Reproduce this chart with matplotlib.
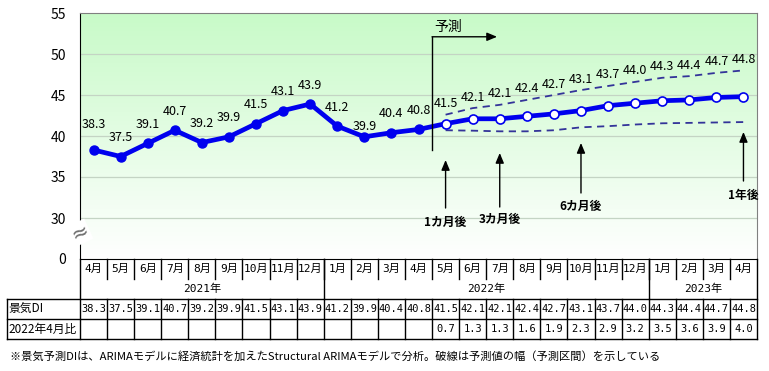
import numpy as np
import matplotlib
matplotlib.use('Agg')
import matplotlib.pyplot as plt
from matplotlib.colors import LinearSegmentedColormap

plt.rcParams['font.family'] = ['Noto Sans CJK JP', 'DejaVu Sans']

months = ['4月', '5月', '6月', '7月', '8月', '9月', '10月', '11月', '12月',
          '1月', '2月', '3月', '4月', '5月', '6月', '7月', '8月', '9月', '10月', '11月', '12月',
          '1月', '2月', '3月', '4月']
years = ['2021年', '2022年', '2023年']
year_span = [(0, 8), (9, 20), (21, 24)]
di = [38.3, 37.5, 39.1, 40.7, 39.2, 39.9, 41.5, 43.1, 43.9, 41.2, 39.9, 40.4, 40.8,
      41.5, 42.1, 42.1, 42.4, 42.7, 43.1, 43.7, 44.0, 44.3, 44.4, 44.7, 44.8]
upper = [42.6, 43.4, 43.8, 44.4, 45.0, 45.6, 46.1, 46.6, 47.1, 47.3, 47.7, 48.0]
lower = [40.7, 40.65, 40.57, 40.57, 40.7, 41.06, 41.2, 41.4, 41.55, 41.6, 41.65, 41.7]
ratio = [0.7, 1.3, 1.3, 1.6, 1.9, 2.3, 2.9, 3.2, 3.5, 3.6, 3.9, 4.0]
horizon_names = ['1カ月後', '3カ月後', '6カ月後', '1年後']
horizon_months = [1, 3, 6, 12]

n = len(di)
base = 12  # 2022年4月
x = np.arange(n)
xf = np.arange(base + 1, n)

W, H = 769, 371
fig = plt.figure(figsize=(W / 100, H / 100), dpi=100)
L, R, T, B = 80, 757, 13, 259
ax = fig.add_axes([L / W, (H - B) / H, (R - L) / W, (B - T) / H])
ax.set_xlim(-0.5, n - 0.5)
ax.set_ylim(25, 55)

# background gradient
cmap = LinearSegmentedColormap.from_list('g', ['#ffffff', '#c8fac8'])
grad = np.linspace(1, 0, 200).reshape(-1, 1)
ax.imshow(grad, cmap=cmap, extent=[-0.5, n - 0.5, 25, 55], aspect='auto', zorder=0)

for v in [30, 35, 40, 45, 50]:
    ax.axhline(v, color='#c4d4c4', lw=0.9, zorder=1)

ax.set_yticks([25, 30, 35, 40, 45, 50, 55])
ax.set_yticklabels(['0', '30', '35', '40', '45', '50', '55'], fontsize=10)
ax.tick_params(axis='y', length=0, pad=10)
ax.set_xticks([])
for s in ['top', 'right']:
    ax.spines[s].set_color('#808080')
ax.spines['left'].set_color('black')
ax.spines['bottom'].set_color('black')

# break mark
ax.text(-0.5, 28.2, '≈', fontsize=15, color='#707070', ha='center', va='center',
        rotation=25, family='DejaVu Sans', zorder=6,
        bbox=dict(boxstyle='square,pad=0.05', fc='white', ec='none'))

# main line
ax.plot(x, di, color='#0000ee', lw=3.4, zorder=4)
ax.plot(x[:base + 1], di[:base + 1], 'o', color='#0000ee', ms=6.5, zorder=5)
ax.plot(xf, di[base + 1:], 'o', mfc='white', mec='#0000ee', mew=1.2, ms=6.5, zorder=5)
ax.plot(xf, upper, '--', color='#333399', lw=1.3, dashes=(4, 3), zorder=3)
ax.plot(xf, lower, '--', color='#333399', lw=1.3, dashes=(4, 3), zorder=3)

# data labels
for i in range(base + 1):
    dy = 19
    if i == 0:
        dy = 25
    if i == 10:
        dy = 10
    ax.annotate(f'{di[i]:.1f}', (x[i], di[i]), xytext=(0, dy), textcoords='offset pixels',
                ha='center', va='center', fontsize=9, zorder=6)
for j, i in enumerate(xf):
    ax.annotate(f'{di[i]:.1f}', (i, upper[j]), xytext=(0, 11), textcoords='offset pixels',
                ha='center', va='center', fontsize=9, zorder=6)

# forecast bracket
ax.plot([base + 0.5, base + 0.5], [38.3, 52.1], color='black', lw=1, zorder=6)
ax.annotate('', xy=(base + 2.9, 52.1), xytext=(base + 0.5, 52.1),
            arrowprops=dict(arrowstyle='-|>,head_length=0.6,head_width=0.25', color='black', lw=1,
                            shrinkA=0, shrinkB=0), zorder=6)
ax.text(base + 1.1, 53.3, '予測', fontsize=10, ha='center', va='center')

# horizon arrows
tips = [37.07, 37.93, 39.15, 40.49]
tails = [31.22, 31.34, 33.05, 34.51]
texts = [29.51, 29.88, 31.46, 32.8]
for name, h, tp, tl, ty in zip(horizon_names, horizon_months, tips, tails, texts):
    xi = base + h
    ax.annotate('', xy=(xi, tp), xytext=(xi, tl),
                arrowprops=dict(arrowstyle='-|>,head_length=0.6,head_width=0.25', color='black', lw=1,
                                shrinkA=0, shrinkB=0), zorder=6)
    ax.text(xi, ty, name, fontsize=8.5, fontweight='bold', ha='center', va='center', zorder=6)

# table below
tb = fig.add_axes([L / W, (H - 339) / H, (R - L) / W, 80 / H])
tb.set_xlim(-0.5, n - 0.5)
tb.set_ylim(80, 0)
tb.axis('off')
lab_x = -0.5 - (L - 7) / ((R - L) / n)
kw = dict(color='black', lw=1, clip_on=False)
for k in range(n - 1):
    tb.plot([k + 0.5, k + 0.5], [0, 20], **kw)
    tb.plot([k + 0.5, k + 0.5], [40, 80], **kw)
for a, b in year_span[:-1]:
    tb.plot([b + 0.5, b + 0.5], [0, 40], **kw)
tb.plot([-0.5, -0.5], [0, 80], **kw)
tb.plot([n - 0.5, n - 0.5], [0, 80], **kw)
tb.plot([lab_x, lab_x], [40, 80], **kw)
for yy in [40, 60, 80]:
    tb.plot([lab_x, n - 0.5], [yy, yy], **kw)

mono = ['DejaVu Sans Mono', 'Noto Sans CJK JP']
for i, m in enumerate(months):
    tb.text(i, 10, m, ha='center', va='center', fontsize=8, family=mono)
for name, (a, b) in zip(years, year_span):
    tb.text((a + b) / 2, 30, name, ha='center', va='center', fontsize=8, family=mono)
for i in range(n):
    tb.text(i, 50, f'{di[i]:.1f}', ha='center', va='center', fontsize=7.5, family=mono)
for j, i in enumerate(xf):
    tb.text(i, 70, f'{ratio[j]:.1f}', ha='center', va='center', fontsize=7.5, family=mono)
tb.text(lab_x + 0.05, 50, '景気DI', ha='left', va='center', fontsize=8.5)
tb.text(lab_x + 0.05, 70, '2022年4月比', ha='left', va='center', fontsize=8.5)

fig.text(10 / W, (H - 356) / H,
         '※景気予測DIは、ARIMAモデルに経済統計を加えたStructural ARIMAモデルで分析。破線は予測値の幅（予測区間）を示している',
         fontsize=8.1, ha='left', va='center')

fig.savefig('out.png', dpi=100)
